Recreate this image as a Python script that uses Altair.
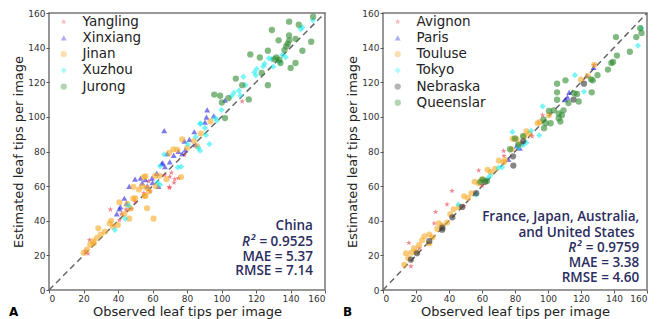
import altair as alt
import pandas as pd

# ---------------- data: panel A (China) ----------------
a_cities = ["Yangling", "Xinxiang", "Jinan", "Xuzhou", "Jurong"]
a_colors = ["#ee3344", "#2a22dd", "#f7a823", "#22eeee", "#2e8b2e"]

yangling_x = [112, 78.5, 70, 75, 72.5, 70, 67, 58.7, 57.8, 35.6, 40.8, 23.5, 21, 22.6, 44.6, 50, 72.9, 71, 69.7, 42, 55, 48]
yangling_y = [109, 78, 65.5, 64.6, 62, 59, 66.4, 57, 62.8, 46.5, 40.3, 29, 22.5, 21, 46.5, 51, 64, 67.8, 59.6, 44, 56, 47]
xinxiang_x = [91.7, 91.3, 95.5, 90.4, 84.2, 81.4, 78.5, 66.8, 79, 77.2, 72.3, 65.9, 102, 68.5, 65.3, 67.2, 62.5, 59.7, 55.9, 54, 49.9, 46.5, 43.7, 40.8, 39.3, 41.4, 53.1, 63.4, 70, 75, 60, 45, 57, 85]
xinxiang_y = [104, 99.8, 100.6, 97, 91.4, 87, 86, 92, 81, 78.7, 77.7, 73.4, 109.6, 78.7, 73, 71.2, 67.4, 64.6, 63.7, 61.8, 64, 59.9, 53, 46.8, 44, 48, 64.6, 59.9, 74, 80, 62, 50, 60, 84]
jinan_x = [87.9, 77.2, 72.1, 69.7, 74.4, 86, 93.6, 55, 61.6, 76.6, 54, 56.8, 55.9, 48.8, 45.5, 40.8, 46.5, 39.9, 37.1, 35.2, 28.6, 32.4, 27.7, 25.4, 23.9, 20.1, 22, 56.8, 60.6, 52.1, 43.7, 68.1, 48.9, 55.9, 55.5, 30, 26, 64, 50, 36, 47, 58, 62, 84, 80]
jinan_y = [90.4, 87, 81.3, 79.2, 81, 83, 97.4, 65.2, 65.9, 65.2, 59.9, 59, 54.3, 52.8, 49.6, 50.6, 41.2, 37.5, 36.5, 38.4, 35.6, 33.7, 30, 28.1, 26.2, 21.5, 23.4, 47.2, 41.2, 58, 44, 64, 59.6, 65.6, 54.3, 32, 27, 66, 53, 40, 47, 57, 60, 86, 82]
xuzhou_x = [153, 146.9, 145.9, 135.3, 137.2, 133.6, 128.9, 127.4, 125, 124.2, 120.4, 119.1, 119.9, 112.7, 113.9, 110.1, 110.9, 107.2, 105.8, 96.4, 97.4, 87.9, 90.4, 87.6, 91, 93, 85, 80.4, 86.6, 66.8, 87.6, 64.4, 74.7, 64.4, 46.1, 44.2, 38.2, 76.6, 63, 100, 130]
xuzhou_y = [155.8, 151.7, 150.7, 135.8, 134.5, 131.5, 133.3, 133.9, 130.7, 129.2, 127.7, 125.8, 124, 123.2, 118.3, 115.2, 112.4, 113.9, 112, 99.3, 97.8, 95.9, 93.6, 96.2, 89.5, 84.3, 88.4, 84.3, 82, 78.3, 80.5, 71.5, 70.8, 60.8, 48.7, 41.2, 34.7, 71.2, 62, 104, 129]
jurong_x = [153.1, 139.2, 144.8, 129.2, 133.1, 139.2, 139.3, 138.4, 137.5, 136.5, 142.9, 152, 146.9, 116.7, 122.2, 126.9, 130.7, 140.1, 142.9, 126.9, 108.3, 112, 115.8, 95.8, 99.2, 100.2, 102, 104, 123.3, 131.8, 134.2, 133.5]
jurong_y = [157.9, 155, 153.2, 150.2, 144.2, 147, 144.2, 142.3, 140.8, 138.6, 145.1, 143.4, 138.2, 136.1, 134.3, 138.2, 133.3, 128.3, 131.1, 118.3, 122.1, 118.3, 110.1, 112.9, 112.2, 108.3, 99.3, 110.8, 125.4, 134.3, 131.1, 133]

# ---------------- data: panel B ----------------
b_cities = ["Avignon", "Paris", "Touluse", "Tokyo", "Nebraska", "Queenslar"]
b_colors = ["#ee3344", "#2a22dd", "#f7a823", "#22eeee", "#333333", "#2e8b2e"]

avignon_x = [58, 41.8, 38.8, 31.9, 31, 15.7, 16.9, 73.1, 73.3, 96.7, 90.4, 22, 60, 128, 49]
avignon_y = [69.1, 57.3, 49.4, 45.1, 38.5, 27.2, 13.7, 80.4, 77.5, 101, 88.8, 24, 60.5, 130, 48.5]
paris_x = [81, 83, 112.8, 111.8, 110.5, 123.5, 127.6, 76, 84]
paris_y = [83.2, 82, 114.2, 111.4, 110, 123.9, 128.6, 75.5, 85]
touluse_x = [78.6, 81, 86.9, 85.5, 88.8, 78, 74.1, 70.2, 93.7, 100.6, 128, 124.1, 63.4, 58, 55.5, 53.5, 51.6, 49.2, 42.8, 40.8, 38.8, 35.9, 32.9, 28.1, 25.1, 23.7, 21.8, 18.8, 17.2, 13.9, 15.3, 12.9, 28.1, 33.9, 73.1, 65.3, 46, 20, 30, 68, 83, 95, 120, 60]
touluse_y = [87.3, 86.9, 91.7, 88.8, 90.3, 81.3, 75.1, 74.8, 96.3, 101, 130.1, 123.6, 69.5, 61.6, 62.5, 55.9, 53.1, 54.1, 46.6, 43.8, 39, 37.2, 35.3, 32.1, 31, 28.7, 25.9, 24.1, 21.6, 21.2, 18.4, 14.6, 26.9, 38.5, 73.8, 68.2, 48, 22, 30.5, 70, 84, 97, 121.5, 64]
tokyo_x = [78.4, 94.7, 84.9, 86.9, 96.7, 89.8, 116.3, 121.8, 154.5, 156.5, 72.2, 63.4, 56.5, 45.7, 65, 70, 82]
tokyo_y = [91.3, 89.4, 83.6, 85.1, 106.1, 92, 124.1, 114.5, 141.2, 151.2, 71, 64.4, 55, 49.4, 66, 70.5, 82.5]
nebraska_x = [48, 35.9, 28, 20.6, 16.9, 56.5, 79, 78.8, 115.5, 121.8, 36, 62, 85, 42]
nebraska_y = [48, 34.8, 28.2, 21.2, 17.5, 55.9, 71.9, 77.2, 110, 119.2, 36, 62.5, 86, 42]
queens_x = [155.9, 156.7, 141.2, 153.5, 149.6, 141.8, 139.4, 138.4, 136.3, 130, 126.1, 127.1, 110.6, 105.5, 105.5, 115.9, 117.6, 126.5, 118.6, 105.5, 112.4, 109.4, 106.5, 103.5, 100.6, 108.4, 107.5, 106.5, 101.6, 98.6, 97.3, 84.9, 97.6, 80, 77, 60.4, 59, 63, 82]
queens_y = [151.2, 148.5, 146.1, 146.1, 137.6, 135.4, 131.7, 131.1, 127.3, 124.1, 121.7, 121.1, 121.1, 119.2, 114.2, 113.6, 113.2, 114.2, 108.9, 109.9, 108, 103.8, 102, 103.8, 103.5, 101, 97.3, 99.2, 96.3, 96.3, 98.6, 88.8, 93.5, 87.5, 81.3, 63.8, 62.5, 63, 84]

a_text = ["China", "MAE = 5.37", "RMSE = 7.14"]
a_r2 = "= 0.9525"
b_text = ["France, Japan, Australia,", "and United States", "MAE = 3.38", "RMSE = 4.60"]
b_r2 = "= 0.9759"

STAR = ("M0,-1L0.2245,-0.309L0.9511,-0.309L0.3633,0.118L0.5878,0.809L0,0.382"
        "L-0.5878,0.809L-0.3633,0.118L-0.9511,-0.309L-0.2245,-0.309Z")
TRI = "triangle-up"


def frame(cities, xs, ys):
    rows = []
    for c, xl, yl in zip(cities, xs, ys):
        for x, y in zip(xl, yl):
            rows.append({"city": c, "obs": x, "est": y})
    return pd.DataFrame(rows)


df_a = frame(a_cities, [yangling_x, xinxiang_x, jinan_x, xuzhou_x, jurong_x],
             [yangling_y, xinxiang_y, jinan_y, xuzhou_y, jurong_y])
df_b = frame(b_cities, [avignon_x, paris_x, touluse_x, tokyo_x, nebraska_x, queens_x],
             [avignon_y, paris_y, touluse_y, tokyo_y, nebraska_y, queens_y])

TICKS = list(range(0, 161, 20))
TXT = "#2b2d5e"
AFONT = "Open Sans"
FS = 13.5


def sc():
    return alt.Scale(domain=[0, 160], nice=False)


def xax():
    return alt.Axis(values=TICKS, title="Observed leaf tips per image", labelOverlap=False,
                    labelBound=False)


def yax():
    return alt.Axis(values=TICKS, title="Estimated leaf tips per image", labelOverlap=False,
                    labelBound=False)


def X(f):
    return alt.X(f, scale=sc(), axis=xax())


def Y(f):
    return alt.Y(f, scale=sc(), axis=yax())


def panel(df, cities, colors, shapes, sizes, w, h, letter, ann, r2, r2_y, right_x):
    diag = alt.Chart(pd.DataFrame({"obs": [0, 160], "est": [0, 160]})).mark_line(
        color="#666666", strokeDash=[6, 4], strokeWidth=1.5).encode(
        x=X("obs:Q"), y=Y("est:Q"))
    pts = alt.Chart(df).mark_point(filled=True, opacity=0.6, strokeWidth=0).encode(
        x=X("obs:Q"), y=Y("est:Q"),
        color=alt.Color("city:N", scale=alt.Scale(domain=cities, range=colors),
                        legend=alt.Legend(title=None, orient="none", legendX=8, legendY=2,
                                          labelFontSize=13.5, labelFont="DejaVu Sans",
                                          labelColor="#222", symbolSize=55, rowPadding=1.2,
                                          labelOffset=12, padding=0, symbolOpacity=0.75)),
        shape=alt.Shape("city:N", scale=alt.Scale(domain=cities, range=shapes)),
        size=alt.Size("city:N", scale=alt.Scale(domain=cities, range=sizes), legend=None),
    )
    tdf = pd.DataFrame(ann).rename(columns={"x": "obs", "y": "est"})
    txt = alt.Chart(tdf).mark_text(align="right", baseline="middle", font=AFONT,
                                   fontSize=FS, fontWeight=600, color=TXT).encode(
        x=X("obs:Q"), y=Y("est:Q"), text="t:N")
    r2df = pd.DataFrame([{"obs": right_x, "est": r2_y, "t": r2}])
    r2t = alt.Chart(r2df).mark_text(align="right", baseline="middle", font=AFONT,
                                    fontSize=FS, fontWeight=600, color=TXT).encode(
        x=X("obs:Q"), y=Y("est:Q"), text="t:N")
    rdf = pd.DataFrame([{"obs": right_x, "est": r2_y, "t": "R²"}])
    rt = alt.Chart(rdf).mark_text(align="right", baseline="middle", font=AFONT,
                                  fontSize=FS, fontWeight=600, fontStyle="italic",
                                  color=TXT, dx=-58).encode(
        x=X("obs:Q"), y=Y("est:Q"), text="t:N")
    lab = alt.Chart(pd.DataFrame({"t": [letter]})).mark_text(
        align="left", baseline="middle", fontSize=12, fontWeight="bold",
        font="DejaVu Sans", color="#000").encode(
        x=alt.value(-40), y=alt.value(h + 22), text="t:N")
    return alt.layer(diag, pts, txt, r2t, rt, lab).resolve_scale(
        color="independent", shape="independent", size="independent").properties(width=w, height=h)


ann_a = [{"x": 153.0, "y": 37.0, "t": a_text[0]},
         {"x": 153.0, "y": 19.1, "t": a_text[1]},
         {"x": 153.0, "y": 10.7, "t": a_text[2]}]
ann_b = [{"x": 155.3, "y": 41.9, "t": b_text[0]},
         {"x": 152.4, "y": 33.2, "t": b_text[1]},
         {"x": 155.3, "y": 15.6, "t": b_text[2]},
         {"x": 155.3, "y": 6.8, "t": b_text[3]}]

pa = panel(df_a, a_cities, a_colors, [STAR, TRI, "circle", "diamond", "circle"],
           [35, 40, 55, 65, 30], 276, 277, "A", ann_a, a_r2, 28.0, 153.0)
pb = panel(df_b, b_cities, b_colors, [STAR, TRI, "circle", "diamond", "circle", "circle"],
           [35, 40, 55, 65, 25, 30], 264, 277, "B", ann_b, b_r2, 24.4, 155.3)

chart = alt.hconcat(pa, pb, spacing=13).resolve_scale(
    color="independent", shape="independent", size="independent").properties(
    padding=0).configure_view(stroke="#777777", strokeWidth=1.5).configure_axis(
    grid=False, domain=False, tickColor="#555", tickSize=3, labelFontSize=9,
    labelFont="DejaVu Sans", labelColor="#333", labelPadding=1, labelOverlap=False,
    titleFont="DejaVu Sans", titleFontSize=13, titleFontWeight="normal",
    titleColor="#222", titlePadding=2)

chart.save("out.html", embed_options={"renderer": "svg", "actions": False})
